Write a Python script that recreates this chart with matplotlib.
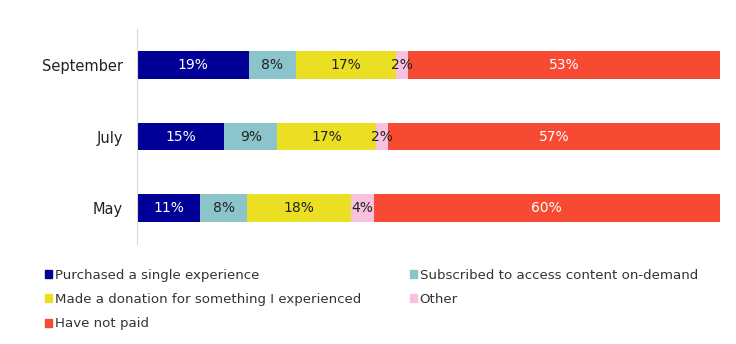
import numpy as np
import matplotlib.pyplot as plt
from matplotlib.patches import Patch

plt.rcParams['font.family'] = ['DejaVu Sans']

months = ["May", "July", "September"]
series = [
    "Purchased a single experience",
    "Subscribed to access content on-demand",
    "Made a donation for something I experienced",
    "Other",
    "Have not paid",
]
purchased = [11, 15, 19]
subscribed = [8, 9, 8]
donation = [18, 17, 17]
other = [4, 2, 2]
not_paid = [60, 57, 53]

colors = ["#000096", "#8cc4cc", "#ebdf23", "#f7c1df", "#f74a33"]
label_colors = ["white", "#222222", "#222222", "#222222", "white"]

values = np.array([purchased, subscribed, donation, other, not_paid], dtype=float)
# bars are shown as shares of 100% even when the rounded labels don't add up
shares = values / values.sum(axis=0) * 100

fig = plt.figure(figsize=(7.36, 3.44), dpi=100)
ax = fig.add_axes([137 / 736, 1 - 244 / 344, (720 - 137) / 736, 215 / 344])

y = np.arange(len(months))
left = np.zeros(len(months))
for i, name in enumerate(series):
    bars = ax.barh(y, shares[i], left=left, height=0.39, color=colors[i],
                   label=name)
    for j, b in enumerate(bars):
        ax.text(b.get_x() + b.get_width() / 2, b.get_y() + b.get_height() / 2,
                f"{int(values[i, j])}%", ha="center", va="center",
                color=label_colors[i], fontsize=10)
    left += shares[i]

ax.set_xlim(0, 100)
ax.set_ylim(-0.5, 2.5)
ax.set_yticks(y)
ax.set_yticklabels(months, fontsize=10.5, color="#222222")
ax.tick_params(axis="y", length=0, pad=10)
ax.set_xticks([])
for s in ["top", "right", "bottom"]:
    ax.spines[s].set_visible(False)
ax.spines["left"].set_color("#d9d9d9")

handles = [Patch(color=c) for c in colors]
leg_kw = dict(frameon=False, fontsize=9.6, handlelength=0.55, handleheight=0.55,
              handletextpad=0.2, labelspacing=0.85, borderpad=0,
              labelcolor="#333333")
fig.legend([handles[0], handles[2], handles[4]],
           [series[0], series[2], series[4]],
           loc="upper left", bbox_to_anchor=(38 / 736, 1 - 262 / 344), **leg_kw)
fig.legend([handles[1], handles[3]], [series[1], series[3]],
           loc="upper left", bbox_to_anchor=(403 / 736, 1 - 262 / 344), **leg_kw)

fig.savefig("out.png", dpi=100)
